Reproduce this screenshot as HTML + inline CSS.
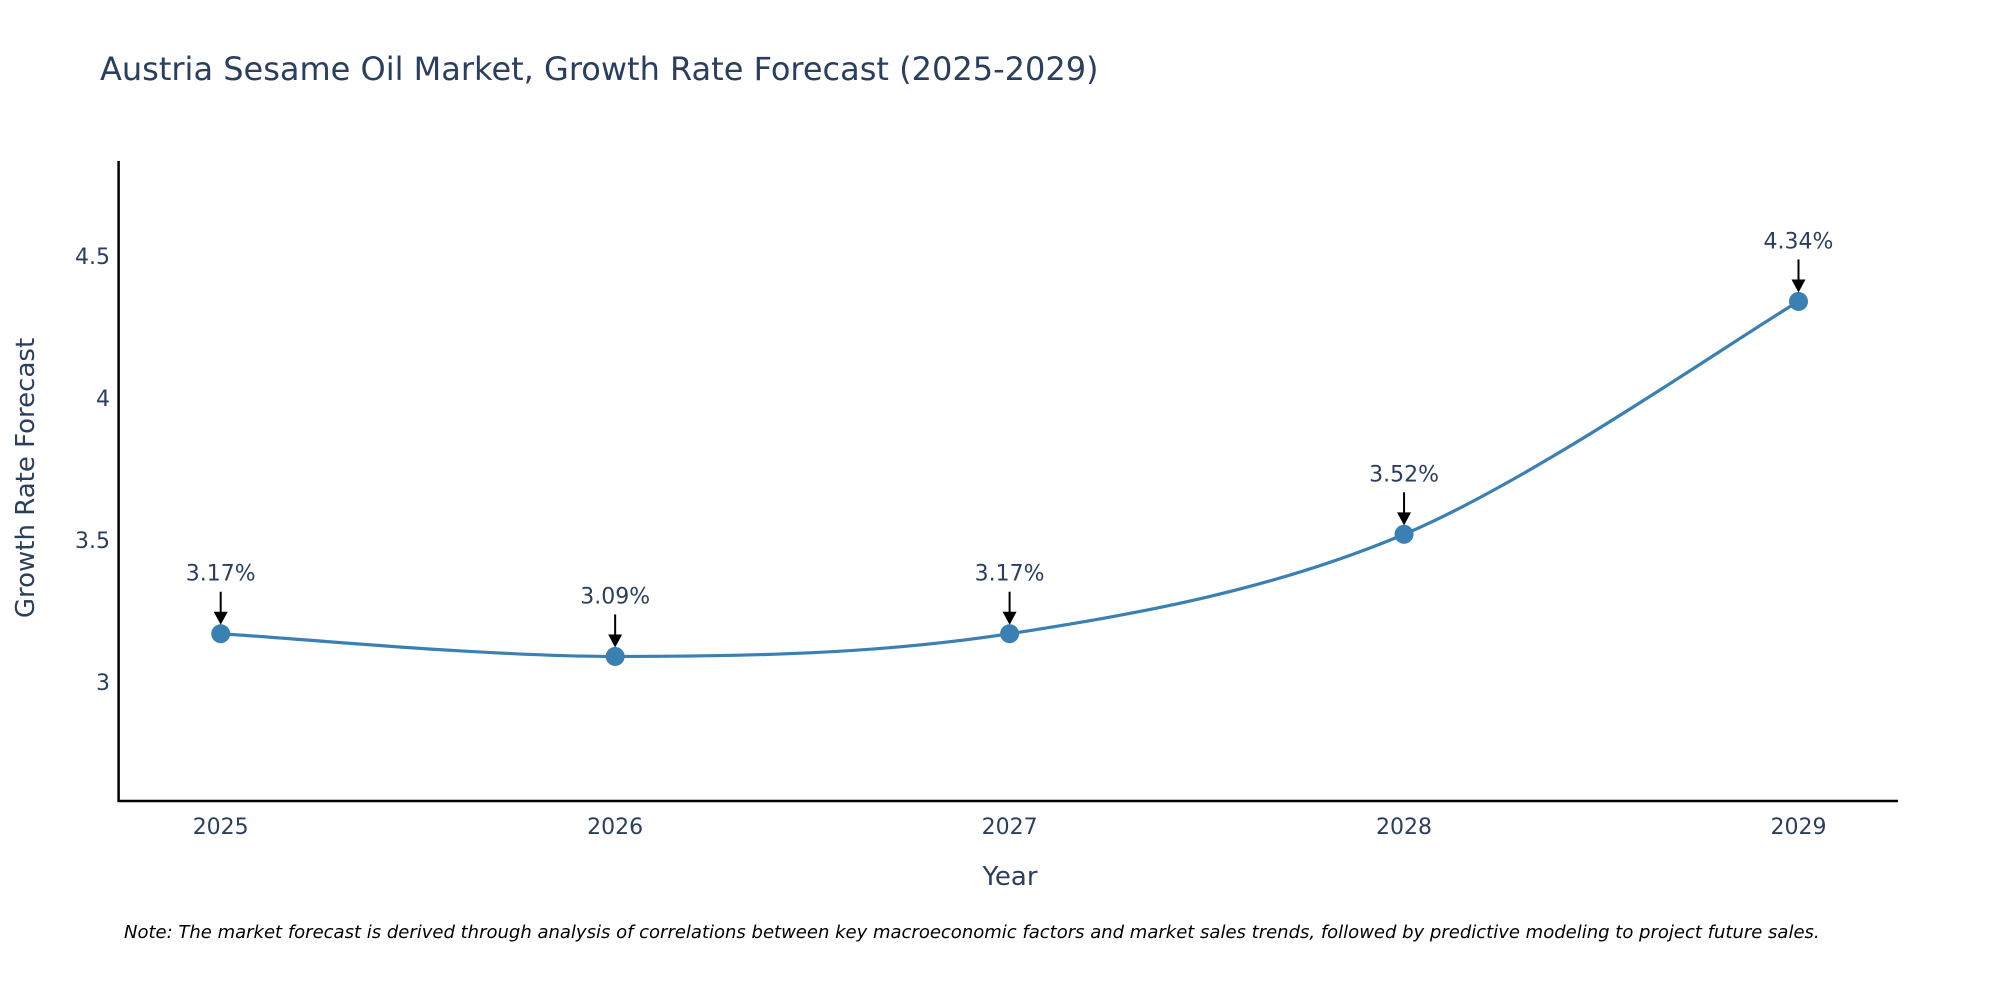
<!DOCTYPE html>
<html><head><meta charset="utf-8"><style>
body{margin:0;background:#fff;}
svg text{font-family:"DejaVu Sans","Liberation Sans",sans-serif;fill:#2a3f5f;}
</style></head><body>
<svg id="chart" width="2000" height="1000" xmlns="http://www.w3.org/2000/svg">
<rect width="2000" height="1000" fill="#fff"/>
<text x="100" y="80" font-size="32">Austria Sesame Oil Market, Growth Rate Forecast (2025-2029)</text>
<g id="plot"></g>
<line x1="118.6" y1="161" x2="118.6" y2="802" stroke="#000" stroke-width="2.5"/>
<line x1="117.5" y1="801" x2="1898" y2="801" stroke="#000" stroke-width="2.5"/>
<text x="1010" y="885" font-size="26" text-anchor="middle">Year</text>
<text transform="translate(34,478) rotate(-90)" font-size="26" text-anchor="middle">Growth Rate Forecast</text>
<text x="124" y="938" font-size="18" font-style="italic" style="fill:#000">Note: The market forecast is derived through analysis of correlations between key macroeconomic factors and market sales trends, followed by predictive modeling to project future sales.</text>
</svg>
<script>
const years=["2025","2026","2027","2028","2029"];
const values=[3.17,3.09,3.17,3.52,4.34];
const labels=["3.17%","3.09%","3.17%","3.52%","4.34%"];
const yTicks=[3,3.5,4,4.5];
const yTickLabels=["3","3.5","4","4.5"];
const NS="http://www.w3.org/2000/svg";
const g=document.getElementById('plot');
function xs(i){return 220.7+i*394.45;}
function ys(v){return 682-(v-3)*284;}
function mk(t,a){const e=document.createElementNS(NS,t);for(const k in a)e.setAttribute(k,a[k]);g.appendChild(e);return e;}
yTicks.forEach((v,i)=>{const t=mk('text',{x:110,y:ys(v)+8,'font-size':22,'text-anchor':'end'});t.textContent=yTickLabels[i];

});
years.forEach((y,i)=>{const t=mk('text',{x:xs(i),y:834,'font-size':22,'text-anchor':'middle'});t.textContent=y;

});
const P=values.map((v,i)=>[xs(i),ys(v)]);
let d=`M${P[0][0]},${P[0][1]}`;const s=1/6;
for(let i=0;i<P.length-1;i++){const p0=P[Math.max(i-1,0)],p1=P[i],p2=P[i+1],p3=P[Math.min(i+2,P.length-1)];
d+=` C${p1[0]+(p2[0]-p0[0])*s},${p1[1]+(p2[1]-p0[1])*s} ${p2[0]-(p3[0]-p1[0])*s},${p2[1]-(p3[1]-p1[1])*s} ${p2[0]},${p2[1]}`;}
const line=mk('path',{d:d,fill:'none',stroke:'#3a80b3','stroke-width':3.2});


P.forEach((p,i)=>{
const c=mk('circle',{cx:p[0],cy:p[1],r:9.5,fill:'#3a80b3'});


const a=mk('line',{x1:p[0],y1:p[1]-42,x2:p[0],y2:p[1]-20,stroke:'#000','stroke-width':2});


const h=mk('polygon',{points:`${p[0]-7},${p[1]-22} ${p[0]+7},${p[1]-22} ${p[0]},${p[1]-9}`,fill:'#000'});


const t=mk('text',{x:p[0],y:p[1]-53,'font-size':22,'text-anchor':'middle'});t.textContent=labels[i];


});
</script>
</body></html>
